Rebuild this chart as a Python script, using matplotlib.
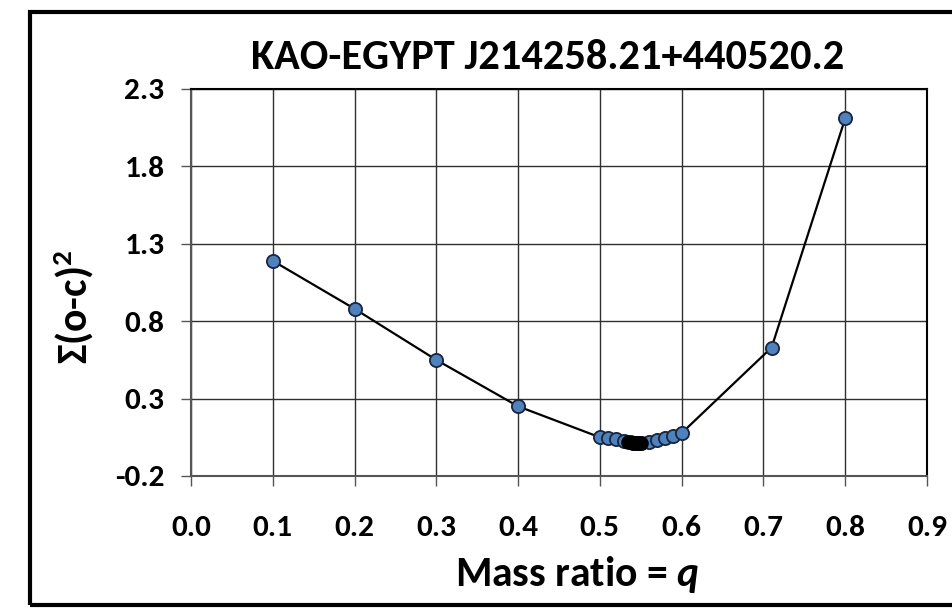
import matplotlib
matplotlib.use("Agg")
import matplotlib.pyplot as plt
from matplotlib import font_manager
from matplotlib.patches import Rectangle

# mass ratio grid and the fit residuals
q_values = [0.1, 0.2, 0.3, 0.4, 0.5, 0.51, 0.52, 0.53, 0.54, 0.545, 0.55,
            0.56, 0.57, 0.58, 0.59, 0.6, 0.71, 0.8]
residuals = [1.19, 0.88, 0.55, 0.25, 0.05, 0.043, 0.037, 0.027, 0.016, 0.013, 0.014,
             0.021, 0.033, 0.045, 0.06, 0.077, 0.63, 2.11]

# the best-fit region, drawn as a dark blob in the original
best_q = [0.535, 0.538, 0.541, 0.544, 0.547, 0.55]
best_res = [0.02, 0.017, 0.015, 0.013, 0.013, 0.014]

x_ticks = [0.0, 0.1, 0.2, 0.3, 0.4, 0.5, 0.6, 0.7, 0.8, 0.9]
y_ticks = [-0.2, 0.3, 0.8, 1.3, 1.8, 2.3]

title = "KAO-EGYPT J214258.21+440520.2"


def pick_font(names):
    have = {f.name for f in font_manager.fontManager.ttflist}
    for n in names:
        if n in have:
            return n
    return "DejaVu Sans"


if __name__ == "__main__":
    font = pick_font(["Carlito", "Lato", "Open Sans", "DejaVu Sans"])
    plt.rcParams["font.family"] = [font, "DejaVu Sans"]
    plt.rcParams["mathtext.fontset"] = "custom"
    plt.rcParams["mathtext.it"] = font + ":italic:bold"
    plt.rcParams["mathtext.rm"] = font + ":bold"

    fig = plt.figure(figsize=(9.53, 6.09), dpi=100)
    ax = fig.add_axes([0.2004, 0.2184, 0.7723, 0.6355])

    ax.plot(q_values, residuals, color="black", lw=1.6, zorder=3)
    ax.plot(q_values, residuals, "o", ms=9.5, mfc="#4F81BD", mec="#17253d",
            mew=1.3, zorder=4)
    ax.plot(best_q, best_res, "o", ms=9.5, mfc="black", mec="black", zorder=5)

    ax.set_xlim(0.0, 0.9)
    ax.set_ylim(-0.2, 2.3)
    ax.set_xticks(x_ticks)
    ax.set_yticks(y_ticks)
    ax.set_xticklabels([f"{v:.1f}" for v in x_ticks])
    ax.set_yticklabels([f"{v:.1f}" for v in y_ticks])
    ax.grid(True, color="#303030", lw=1.0)
    ax.set_axisbelow(True)
    for s in ax.spines.values():
        s.set_linewidth(1.5)
        s.set_color("black")
    ax.spines["left"].set_color("#555555")
    ax.spines["bottom"].set_color("#555555")
    ax.tick_params(axis="x", length=7, width=1, color="#555555", pad=21,
                   labelsize=22.5)
    ax.tick_params(axis="y", length=7, width=1, color="#555555", pad=12,
                   labelsize=22.5)
    for lab in ax.get_xticklabels() + ax.get_yticklabels():
        lab.set_fontweight("bold")

    fig.text(0.575, 0.905, title, ha="center", va="center", fontsize=30.5,
             fontweight="bold")
    fig.text(0.605, 0.056, r"Mass ratio = $q$", ha="center", va="center",
             fontsize=30, fontweight="bold")
    fig.text(0.078, 0.496, r"$\Sigma$(o-c)$^2$", ha="center", va="center",
             rotation=90, fontsize=30, fontweight="bold")

    # outer chart frame, right side runs off the picture
    fig.patches.append(Rectangle((30 / 953, 4 / 609), 1.0, 593 / 609,
                                 transform=fig.transFigure, fill=False,
                                 lw=3, ec="black", clip_on=False))

    fig.savefig("out.png", dpi=100)
